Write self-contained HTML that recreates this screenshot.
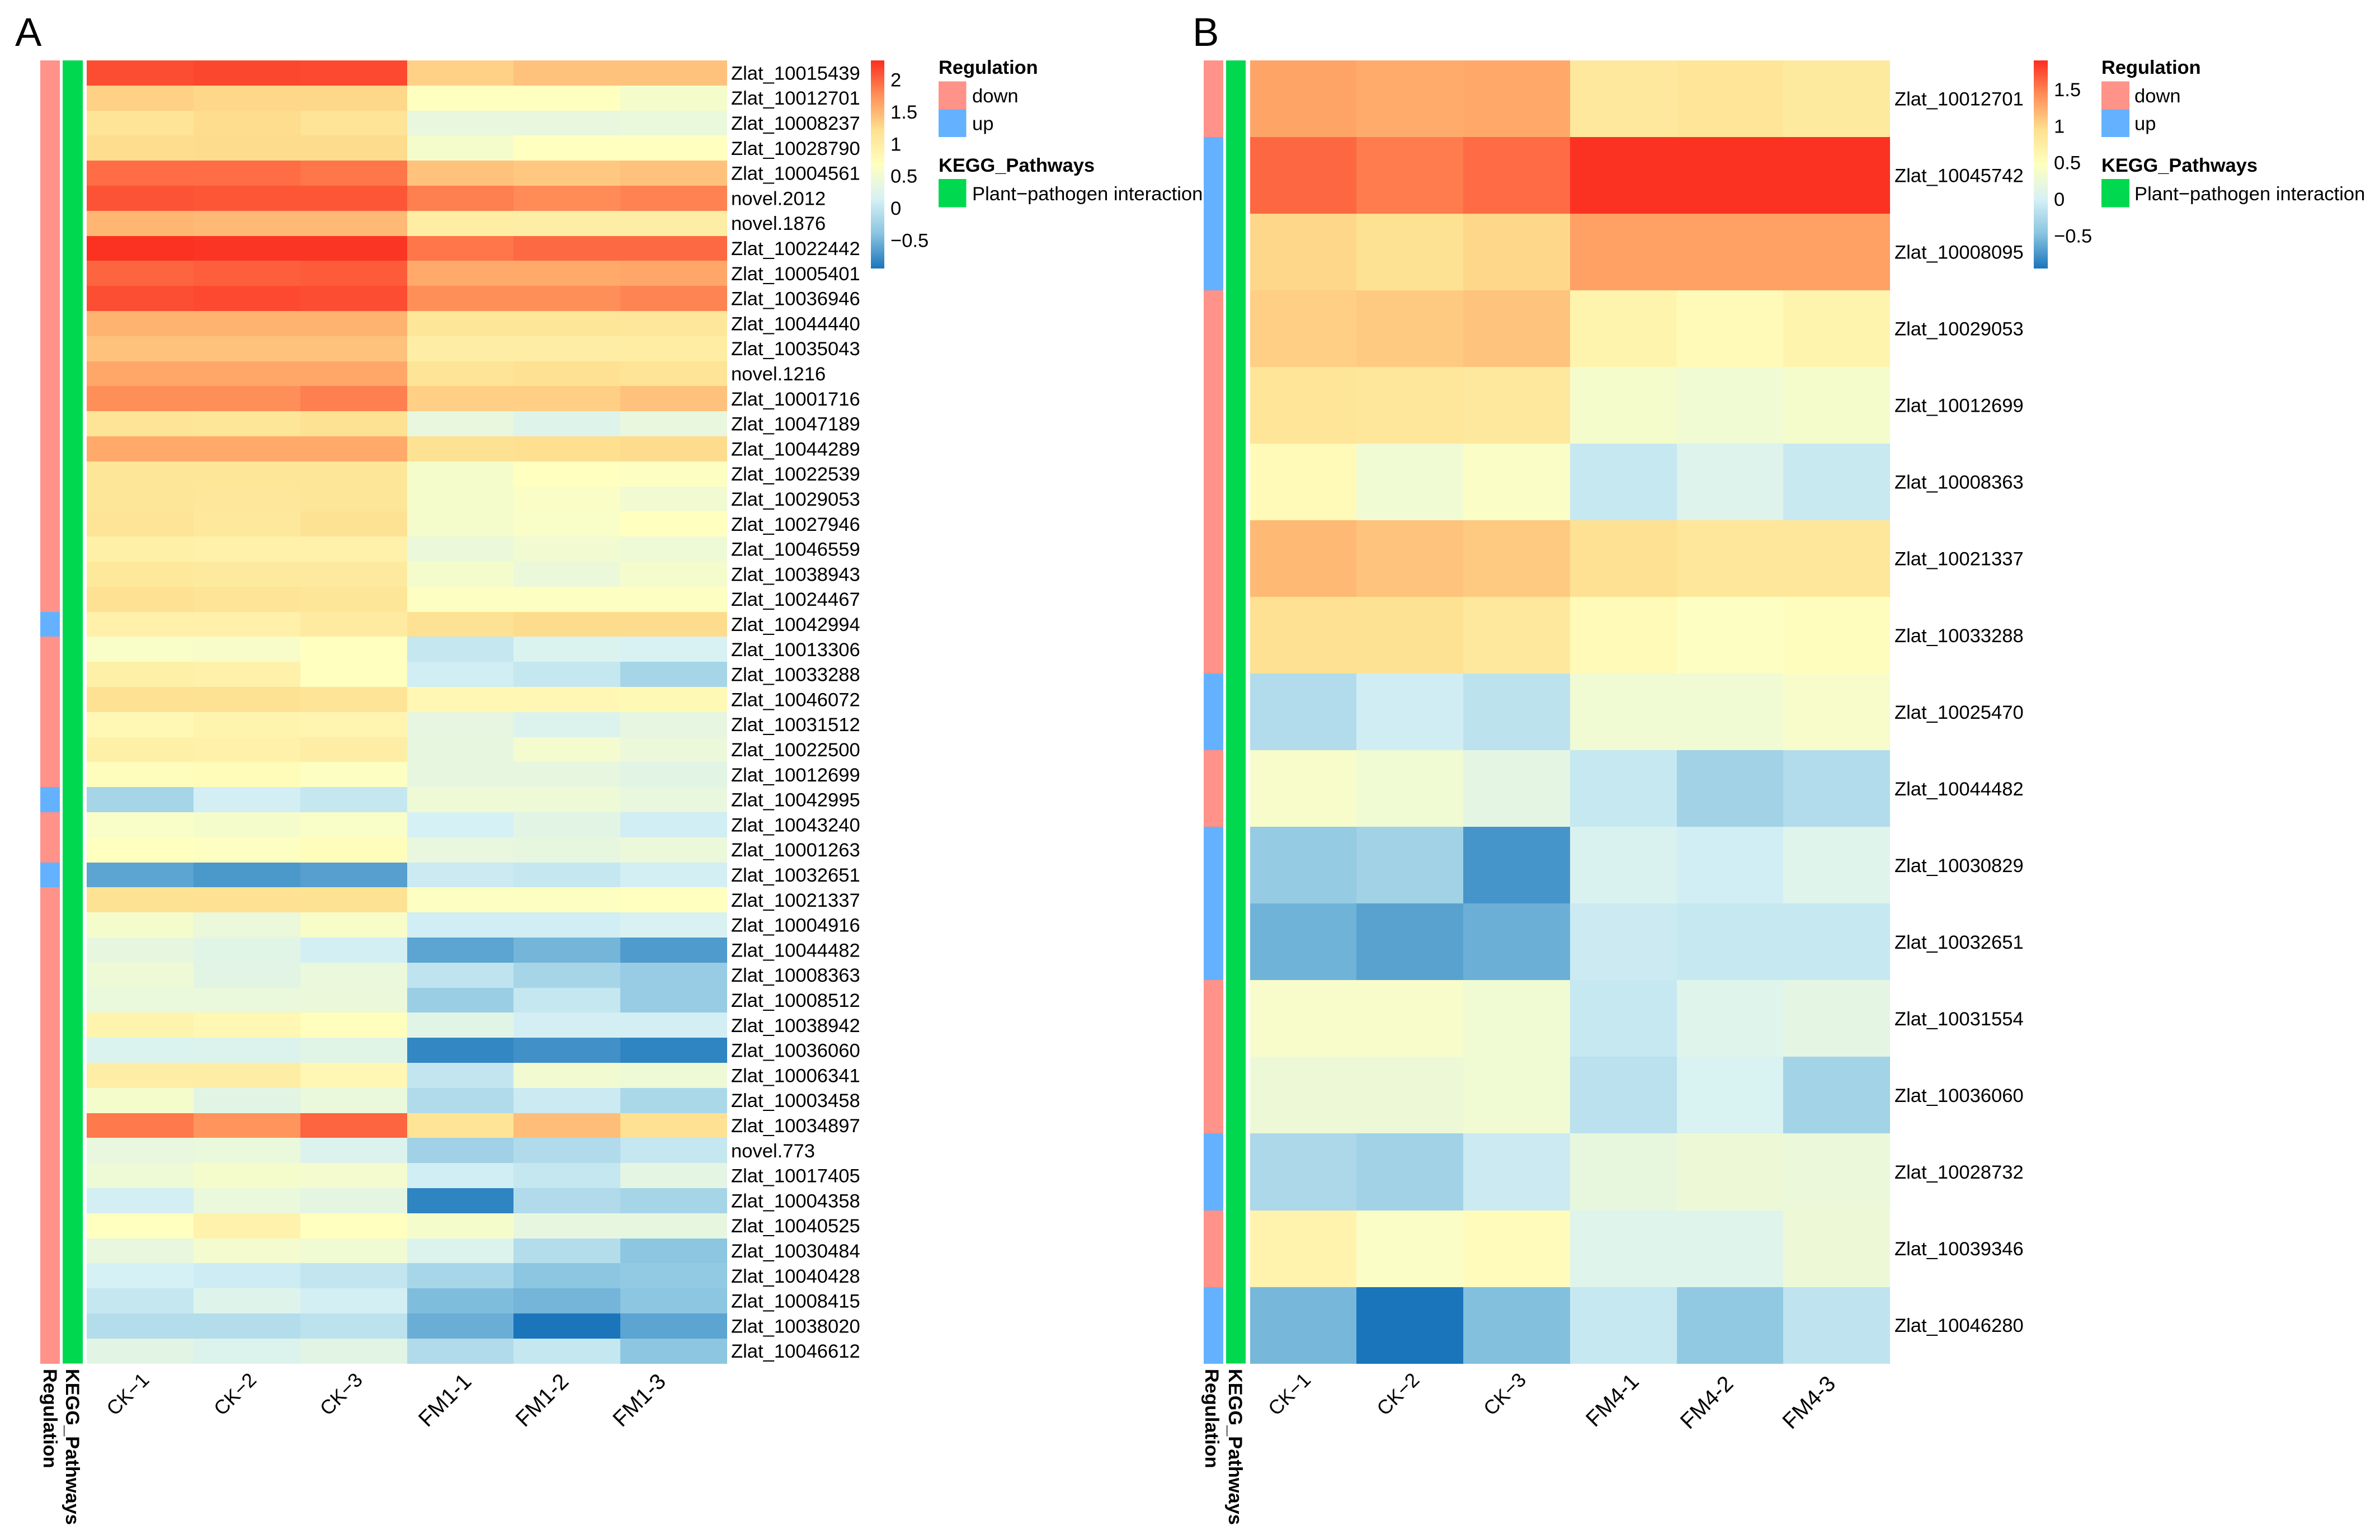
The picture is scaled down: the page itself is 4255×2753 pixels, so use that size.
<!DOCTYPE html>
<html lang="en">
<head>
<meta charset="utf-8">
<title>Heatmaps of plant-pathogen interaction genes</title>
<style>
  html, body { margin: 0; padding: 0; background: #fff; }
  svg { display: block; }
  text { font-family: "Liberation Sans", Arial, sans-serif; fill: #000; }
  .big { font-size: 71px; fill: #000; }
  .lab { font-size: 34.6px; }
  .collab-ck { font-size: 35.5px; }
  .collab-fm { font-size: 39.5px; }
  .bold { font-size: 34.4px; font-weight: bold; }
</style>
</head>
<body>
<svg id="chart" xmlns="http://www.w3.org/2000/svg" width="4255" height="2753" viewBox="0 0 4255 2753">
  <rect x="0" y="0" width="4255" height="2753" fill="#ffffff"/>
  <text class="big" x="27" y="82">A</text>
  <text class="big" x="2132" y="82">B</text>
  <g id="panelA"></g>
  <g id="panelB"></g>
</svg>
<script>
// ---------- Panel A data ----------
const rowLabelsA = ["Zlat_10015439","Zlat_10012701","Zlat_10008237","Zlat_10028790","Zlat_10004561","novel.2012","novel.1876","Zlat_10022442","Zlat_10005401","Zlat_10036946","Zlat_10044440","Zlat_10035043","novel.1216","Zlat_10001716","Zlat_10047189","Zlat_10044289","Zlat_10022539","Zlat_10029053","Zlat_10027946","Zlat_10046559","Zlat_10038943","Zlat_10024467","Zlat_10042994","Zlat_10013306","Zlat_10033288","Zlat_10046072","Zlat_10031512","Zlat_10022500","Zlat_10012699","Zlat_10042995","Zlat_10043240","Zlat_10001263","Zlat_10032651","Zlat_10021337","Zlat_10004916","Zlat_10044482","Zlat_10008363","Zlat_10008512","Zlat_10038942","Zlat_10036060","Zlat_10006341","Zlat_10003458","Zlat_10034897","novel.773","Zlat_10017405","Zlat_10004358","Zlat_10040525","Zlat_10030484","Zlat_10040428","Zlat_10008415","Zlat_10038020","Zlat_10046612"];
const columnLabelsA = ["CK−1","CK−2","CK−3","FM1-1","FM1-2","FM1-3"];
const upRowsA = ["Zlat_10042994","Zlat_10042995","Zlat_10032651"];
const valuesA = [
[2.13,2.16,2.15,1.32,1.42,1.42],
[1.32,1.28,1.28,.68,.68,.55],
[1.15,1.24,1.15,.38,.38,.4],
[1.24,1.25,1.25,.55,.68,.68],
[1.95,1.95,1.9,1.42,1.38,1.42],
[2.1,2.08,2.08,1.85,1.78,1.83],
[1.5,1.48,1.48,1.0,.98,.98],
[2.28,2.26,2.26,1.9,1.97,1.97],
[2.0,2.03,2.05,1.58,1.58,1.6],
[2.12,2.15,2.13,1.76,1.76,1.82],
[1.52,1.52,1.52,1.12,1.12,1.1],
[1.42,1.42,1.42,.98,.98,1.0],
[1.6,1.6,1.6,1.15,1.2,1.15],
[1.76,1.76,1.85,1.33,1.33,1.42],
[1.15,1.12,1.18,.38,.25,.38],
[1.58,1.58,1.58,1.18,1.22,1.25],
[1.12,1.12,1.12,.55,.68,.65],
[1.12,1.1,1.12,.55,.62,.5],
[1.15,1.08,1.18,.55,.6,.68],
[.95,.92,.93,.42,.5,.45],
[1.08,1.05,1.05,.55,.42,.55],
[1.2,1.15,1.12,.66,.66,.66],
[.93,.93,1.02,1.18,1.25,1.25],
[.6,.58,.68,.02,.2,.16],
[.95,.92,.68,.1,.02,-.2],
[1.2,1.18,1.15,.82,.82,.78],
[.8,.88,.85,.35,.22,.35],
[.95,.92,.98,.36,.52,.42],
[.72,.75,.66,.36,.36,.3],
[-.2,.12,.02,.45,.45,.38],
[.6,.55,.6,.14,.3,.1],
[.68,.66,.72,.38,.36,.42],
[-.62,-.7,-.65,.06,.02,.12],
[1.18,1.2,1.18,.66,.66,.68],
[.55,.42,.58,.1,.1,.18],
[.36,.28,.12,-.62,-.5,-.68],
[.45,.3,.4,-.02,-.2,-.3],
[.4,.4,.42,-.28,.02,-.3],
[.88,.82,.7,.28,.12,.12],
[.2,.22,.28,-.82,-.75,-.84],
[.98,.98,.82,0,.5,.45],
[.55,.3,.4,-.12,.06,-.16],
[1.88,1.72,2.0,1.15,1.45,1.2],
[.38,.4,.22,-.24,-.12,.02],
[.45,.55,.52,.1,.02,.32],
[.12,.4,.33,-.84,-.12,-.2],
[.68,.9,.68,.55,.36,.36],
[.38,.52,.48,.22,-.1,-.38],
[.14,.08,0,-.18,-.38,-.33],
[.02,.24,.12,-.45,-.5,-.38],
[-.1,-.1,-.04,-.55,-.94,-.62],
[.3,.22,.3,-.12,.02,-.38]
];
const tickValuesA = [2,1.5,1,0.5,0,-0.5];
const tickLabelsA = ["2","1.5","1","0.5","0","−0.5"];
const domainA = [-0.94,2.30];

// ---------- Panel B data ----------
const rowLabelsB = ["Zlat_10012701","Zlat_10045742","Zlat_10008095","Zlat_10029053","Zlat_10012699","Zlat_10008363","Zlat_10021337","Zlat_10033288","Zlat_10025470","Zlat_10044482","Zlat_10030829","Zlat_10032651","Zlat_10031554","Zlat_10036060","Zlat_10028732","Zlat_10039346","Zlat_10046280"];
const columnLabelsB = ["CK−1","CK−2","CK−3","FM4-1","FM4-2","FM4-3"];
const upRowsB = ["Zlat_10045742","Zlat_10008095","Zlat_10025470","Zlat_10030829","Zlat_10032651","Zlat_10028732","Zlat_10046280"];
const valuesB = [
[1.3,1.26,1.28,.82,.88,.8],
[1.62,1.52,1.6,1.88,1.88,1.88],
[1.0,.92,1.0,1.32,1.32,1.32],
[1.05,1.08,1.12,.65,.55,.65],
[.88,.85,.82,.36,.3,.36],
[.55,.3,.42,-.1,.08,-.08],
[1.18,1.12,1.08,.93,.85,.85],
[.93,.92,.82,.55,.45,.5],
[-.22,-.04,-.16,.3,.3,.38],
[.38,.3,.16,-.1,-.33,-.22],
[-.4,-.33,-.76,.04,-.03,.1],
[-.58,-.68,-.6,-.07,-.1,-.1],
[.38,.38,.3,-.1,.1,.16],
[.27,.27,.3,-.17,.03,-.32],
[-.26,-.33,-.07,.2,.27,.24],
[.66,.42,.52,.1,.1,.27],
[-.55,-.95,-.5,-.1,-.42,-.14]
];
const tickValuesB = [1.5,1,0.5,0,-0.5];
const tickLabelsB = ["1.5","1","0.5","0","−0.5"];
const domainB = [-0.95,1.90];

// ---------- Shared palette ----------
const paletteStops = ["#1a75bb","#89c4e0","#d6f1f5","#ffffbf","#fee090","#ff8f59","#fb2e20"];
const regulationColors = { down: "#ff9289", up: "#64b2ff" };
const pathwayColor = "#00d94f";

// ---------- Layout (not data) ----------
const layoutA = { panel: "a", regX: 72, regW: 35, keggX: 112, keggW: 36, heatX: 155.4, colW: 190.75, top: 108, bottom: 2437.6,
  labelX: 1307, barX: 1557, barW: 24, tickX: 1592, legendX: 1678, swatchW: 49.5, legendTextX: 1738,
  regTitleX: 78, keggTitleX: 118, colNudge: [18,19,18,22,5,-12], colBaseY: [2469,2469,2469,2472,2472,2472] };
const layoutB = { panel: "b", regX: 2152, regW: 35, keggX: 2192, keggW: 35, heatX: 2234.6, colW: 190.75, top: 108, bottom: 2437.6,
  labelX: 3387, barX: 3636, barW: 25, tickX: 3672, legendX: 3757, swatchW: 50, legendTextX: 3816,
  regTitleX: 2155, keggTitleX: 2197, colNudge: [15.5,19,19,30,8,0], colBaseY: [2469,2469,2469,2472,2476,2476] };
const barTop = 108, barBottom = 480;

const NS = "http://www.w3.org/2000/svg";
function hexToRgb(h) { return [1,3,5].map(i => parseInt(h.slice(i,i+2),16)); }
function colorAt(t) {
  const c = Math.max(0, Math.min(1, t)) * (paletteStops.length - 1);
  const i = Math.min(Math.floor(c), paletteStops.length - 2);
  const f = c - i, a = hexToRgb(paletteStops[i]), b = hexToRgb(paletteStops[i+1]);
  return "rgb(" + a.map((v,k) => Math.round(v + (b[k]-v)*f)).join(",") + ")";
}
function make(parent, tag, attrs, content) {
  const el = document.createElementNS(NS, tag);
  for (const k in attrs) el.setAttribute(k, attrs[k]);
  if (content !== undefined) el.textContent = content;
  parent.appendChild(el);
  return el;
}

function drawPanel(root, L, rowLabels, colLabels, upRows, values, domain, tickValues, tickLabels) {
  const rowH = (L.bottom - L.top) / rowLabels.length;
  const yRow = r => L.top + r * rowH;
  const xCol = c => L.heatX + c * L.colW;
  const norm = v => (v - domain[0]) / (domain[1] - domain[0]);
  const yBar = v => barTop + (domain[1] - v) / (domain[1] - domain[0]) * (barBottom - barTop);

  // regulation annotation column + row labels + heat cells, all driven by the arrays
  rowLabels.forEach((name, r) => {
    const y0 = Math.round(yRow(r)), y1 = Math.round(yRow(r + 1));
    const isUp = upRows.includes(name);
    const reg = make(root, "rect", { x: L.regX, y: y0, width: L.regW, height: y1 - y0, fill: isUp ? regulationColors.up : regulationColors.down, "shape-rendering": "crispEdges" });
    
    

    values[r].forEach((v, c) => {
      const x0 = Math.round(xCol(c)), x1 = Math.round(xCol(c + 1));
      const cell = make(root, "rect", { x: x0, y: y0, width: x1 - x0, height: y1 - y0, fill: colorAt(norm(v)), "shape-rendering": "crispEdges" });
      
      
    });

    const lab = make(root, "text", { class: "lab", x: L.labelX, y: yRow(r) + rowH / 2 + 12 }, name);
    
    
  });

  // KEGG annotation column
  const kegg = make(root, "rect", { x: L.keggX, y: L.top, width: L.keggW, height: L.bottom - L.top, fill: pathwayColor });
  
  

  // annotation titles
  const regTitle = make(root, "text", { class: "bold", transform: "translate(" + L.regTitleX + ",2447) rotate(90)" }, "Regulation");
  
  
  const keggTitle = make(root, "text", { class: "bold", transform: "translate(" + L.keggTitleX + ",2447) rotate(90)" }, "KEGG_Pathways");
  
  

  // column labels
  colLabels.forEach((name, c) => {
    const ex = xCol(c) + L.colW / 2 + L.colNudge[c];
    const cls = c < 3 ? "collab-ck" : "collab-fm";
    const t = make(root, "text", { class: cls, "text-anchor": "end", transform: "translate(" + ex + "," + L.colBaseY[c] + ") rotate(-45)" }, name);
    
    
  });

  // colour bar
  const gradId = "grad-" + L.panel;
  const defs = make(root, "defs", {});
  const grad = make(defs, "linearGradient", { id: gradId, x1: 0, y1: 1, x2: 0, y2: 0 });
  paletteStops.forEach((col, i) => make(grad, "stop", { offset: i / (paletteStops.length - 1), "stop-color": col }));
  const bar = make(root, "rect", { x: L.barX, y: barTop, width: L.barW, height: barBottom - barTop, fill: "url(#" + gradId + ")" });
  
  
  tickValues.forEach((v, i) => {
    const t = make(root, "text", { class: "lab", x: L.tickX, y: yBar(v) + 12 }, tickLabels[i]);
    
    
  });

  // legends
  const lt1 = make(root, "text", { class: "bold", x: L.legendX, y: 132 }, "Regulation");
  
  
  const sw1 = make(root, "rect", { x: L.legendX, y: 145.5, width: L.swatchW, height: 50, fill: regulationColors.down });
  
  
  const sw2 = make(root, "rect", { x: L.legendX, y: 195.5, width: L.swatchW, height: 49.5, fill: regulationColors.up });
  
  
  const lx1 = make(root, "text", { class: "lab", x: L.legendTextX, y: 183 }, "down");
  
  
  const lx2 = make(root, "text", { class: "lab", x: L.legendTextX, y: 232.5 }, "up");
  
  
  const lt2 = make(root, "text", { class: "bold", x: L.legendX, y: 307 }, "KEGG_Pathways");
  
  
  const sw3 = make(root, "rect", { x: L.legendX, y: 320, width: L.swatchW, height: 50.5, fill: pathwayColor });
  
  
  const lx3 = make(root, "text", { class: "lab", x: L.legendTextX, y: 358 }, "Plant−pathogen interaction");
  
  
}

drawPanel(document.getElementById("panelA"), layoutA, rowLabelsA, columnLabelsA, upRowsA, valuesA, domainA, tickValuesA, tickLabelsA);
drawPanel(document.getElementById("panelB"), layoutB, rowLabelsB, columnLabelsB, upRowsB, valuesB, domainB, tickValuesB, tickLabelsB);
</script>
</body>
</html>
